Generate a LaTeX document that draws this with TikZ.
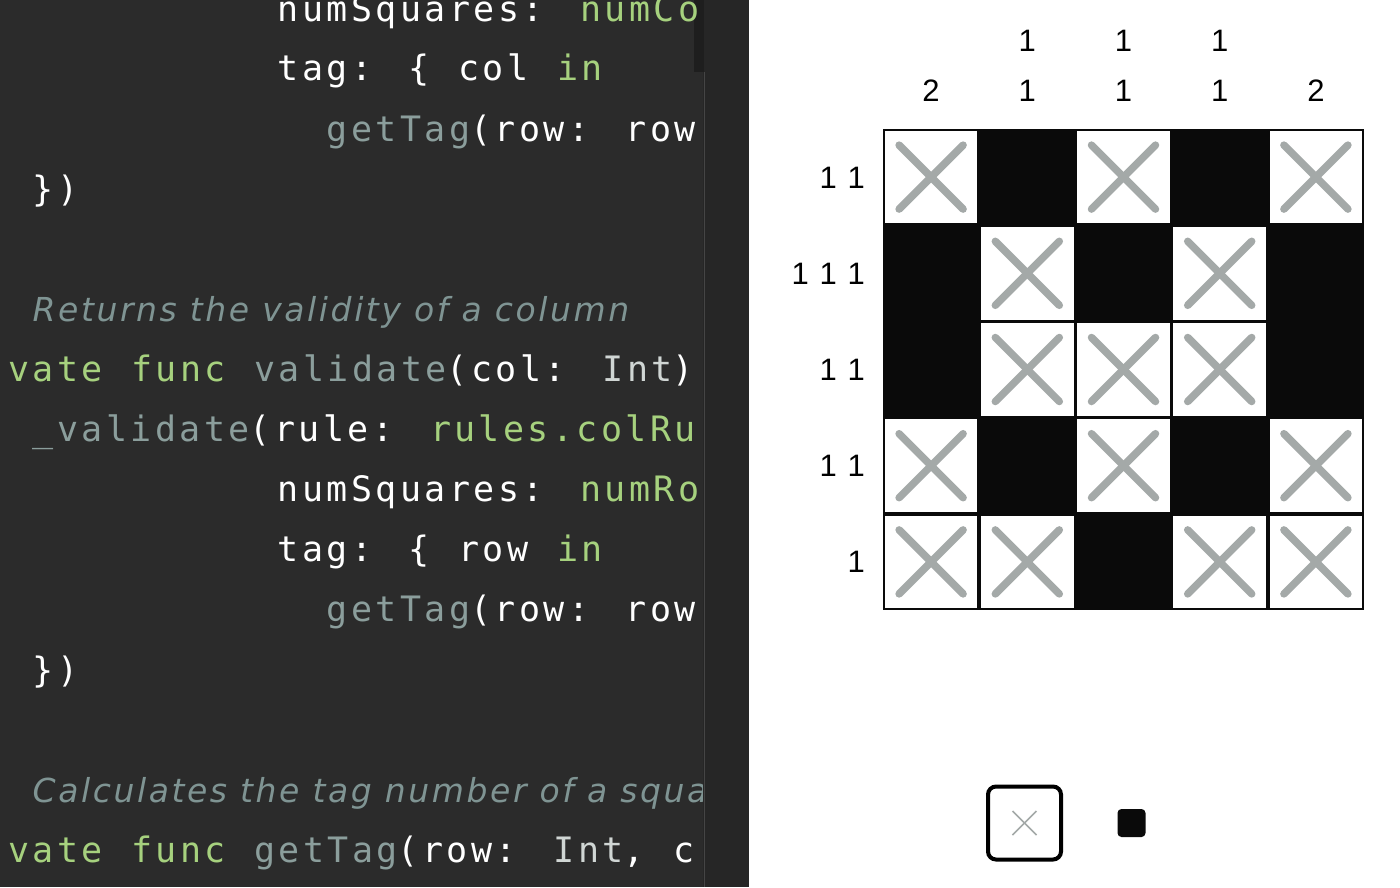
\documentclass[tikz,border=0pt]{standalone}
\usepackage{fontspec}
\newfontfamily\codefont[LetterSpace=9.8,WordSpace={1.163,0,0}]{DejaVu Sans Mono}
\newfontfamily\notefont[LetterSpace=7.8]{DejaVu Sans}
\newfontfamily\cluefont[WordSpace={1.25,0,0}]{Liberation Sans}
\definecolor{codebg}{HTML}{2B2B2B}
\definecolor{stripbg}{HTML}{262626}
\definecolor{thumbbg}{HTML}{1E1E1E}
\definecolor{edgeline}{HTML}{454545}
\definecolor{codegreen}{HTML}{A6D17E}
\definecolor{codeteal}{HTML}{8B9E9C}
\definecolor{codetype}{HTML}{D0D6D4}
\definecolor{codenote}{HTML}{7F9493}
\definecolor{cellblack}{HTML}{0A0A0A}
\definecolor{crossgray}{HTML}{A4A9A8}

\begin{document}
\begin{tikzpicture}[
                x=1pt,
                y=-1pt,
                code/.style={
                  anchor=base west,
                  inner sep=0pt,
                  font=\codefont\fontsize{35}{35}\selectfont,
                  text=white,
                },
                note/.style={
                  anchor=base west,
                  inner sep=0pt,
                  font=\notefont\itshape\fontsize{33}{33}\selectfont,
                  text=codenote,
                },
                clue/.style={
                  inner sep=0pt,
                  font=\cluefont\fontsize{31}{31}\selectfont,
                  text=black,
                },
                blank/.style={
                  fill=white,
                  minimum size=92.6pt,
                  inner sep=0pt,
                },
                cross/.style={draw=crossgray, line width=7.5pt, line cap=round},
              ]
              \useasboundingbox (0,0) rectangle (1400,887) ;
              \fill[white] (0,0) rectangle (1400,887) ;
              % editor pane
              \fill[codebg] (0,0) rectangle (703,887) ;
              \fill[stripbg] (703,0) rectangle (749,887) ;
              \fill[thumbbg] (694,0) rectangle (704,72) ;
              \draw[edgeline, line width=1pt] (704,72) -- (704,887) ;
              \begin{scope}
                \clip (0,0) rectangle (702,887) ;
                \node[code] (l1) at (277.5,21) {numSquares: \textcolor{codegreen}{numCo}} ;
                \node[code] (l2) at (277.5,80) {tag: \{ col \textcolor{codegreen}{in}} ;
                \node[code] (l3) at (326.5,141) {\textcolor{codeteal}{getTag}(row: row} ;
                \node[code] (l4) at (32.5,201) {\})} ;
                \node[note] (l6) at (32.5,321) {Returns the validity of a column} ;
                \node[code] (l7) at (8,381) {\textcolor{codegreen}{vate func} \textcolor{codeteal}{validate}(col: \textcolor{codetype}{Int})} ;
                \node[code] (l8) at (32.5,441) {\textcolor{codeteal}{\_validate}(rule: \textcolor{codegreen}{rules.colRu}} ;
                \node[code] (l9) at (277.5,501) {numSquares: \textcolor{codegreen}{numRo}} ;
                \node[code] (l10) at (277.5,561) {tag: \{ row \textcolor{codegreen}{in}} ;
                \node[code] (l11) at (326.5,621) {\textcolor{codeteal}{getTag}(row: row} ;
                \node[code] (l12) at (32.5,682) {\})} ;
                \node[note] (l14) at (32.5,802) {Calculates the tag number of a squa} ;
                \node[code] (l15) at (8,862) {\textcolor{codegreen}{vate func} \textcolor{codeteal}{getTag}(row: \textcolor{codetype}{Int}, c} ;
              \end{scope}
              % puzzle grid
              \fill[cellblack] (883,129) rectangle (1364,610) ;
              \foreach \r/\cols in {1/{1,3,5},2/{2,4},3/{2,3,4},4/{1,3,5},5/{1,2,4,5}}
                \foreach \c in \cols {
                  \node[blank] (cell-\r-\c) at ({883+96.2*(\c-0.5)},{129+96.2*(\r-0.5)}) {} ;
                  \draw[cross] (cell-\r-\c.center) ++(-32,-32) -- ++(64,64) ;
                  \draw[cross] (cell-\r-\c.center) ++(-32,32) -- ++(64,-64) ;
                }
              % column clues
              \node[clue, anchor=base] (top2) at (1027.3,51) {1} ;
              \node[clue, anchor=base] (top3) at (1123.5,51) {1} ;
              \node[clue, anchor=base] (top4) at (1219.7,51) {1} ;
              \foreach \c/\v in {1/2,2/1,3/1,4/1,5/2}
                \node[clue, anchor=base] (col\c) at ({883+96.2*(\c-0.5)},101) {\v} ;
              % row clues
              \foreach \r/\v in {1/1 1,2/1 1 1,3/1 1,4/1 1,5/1}
                \node[clue, anchor=base east] (row\r) at (865,{129+96.2*(\r-0.5)+11}) {\v} ;
              % legend
              \node[draw=black, line width=4pt, rounded corners=8pt, minimum size=73pt, inner sep=0pt] (markx) at (1024.5,823) {} ;
              \draw[crossgray, line width=1.6pt] (markx.center) ++(-12,-12) -- ++(24,24) ;
              \draw[crossgray, line width=1.6pt] (markx.center) ++(-12,12) -- ++(24,-24) ;
              \node[fill=cellblack, rounded corners=4pt, minimum size=28pt, inner sep=0pt] (markfill) at (1131.5,823) {} ;
              \end{tikzpicture}
\end{document}
